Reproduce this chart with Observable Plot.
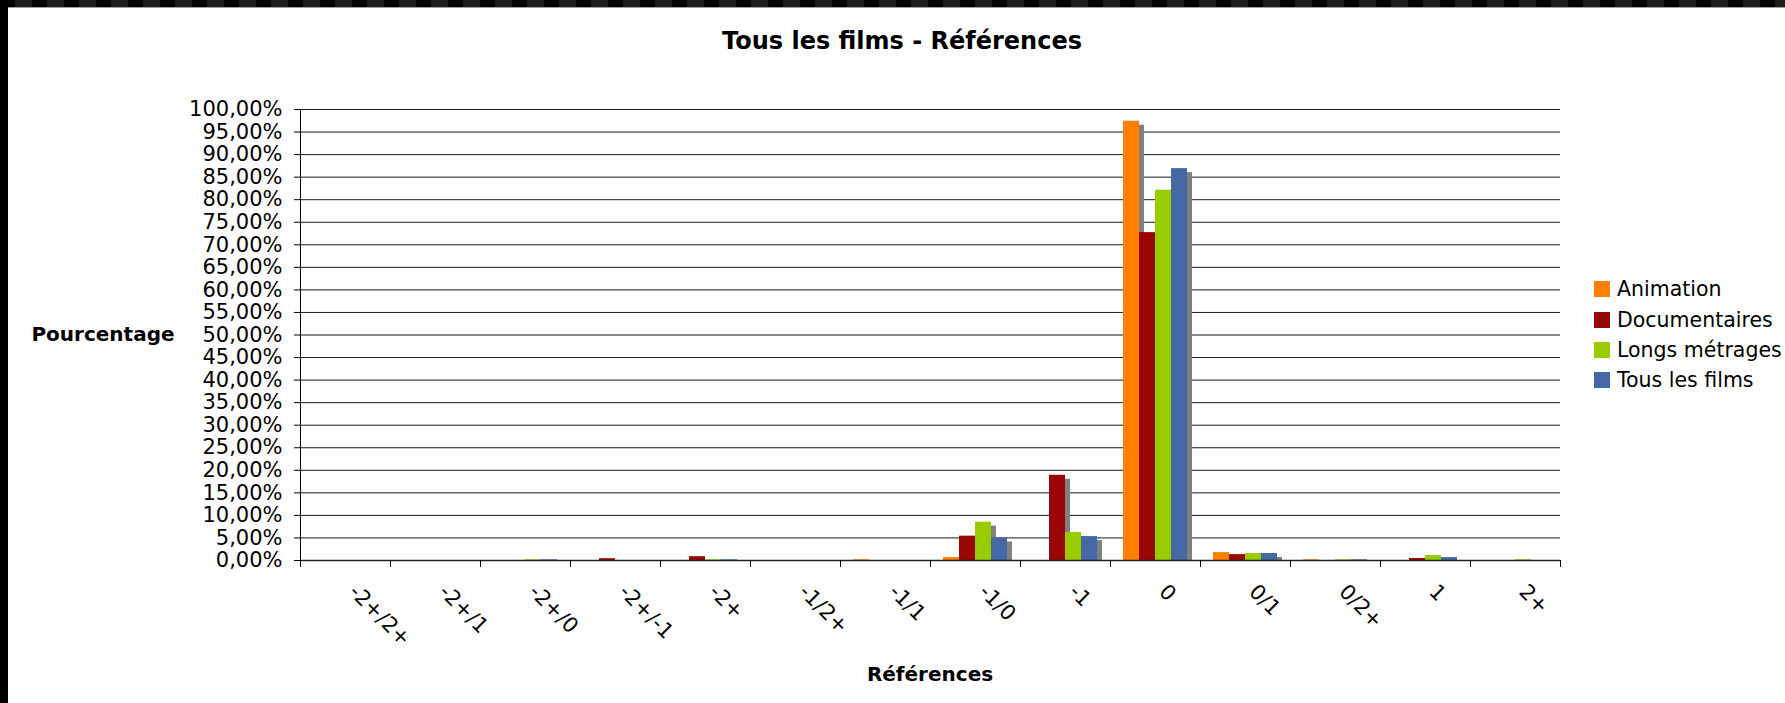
<!DOCTYPE html>
<html>
<head>
<meta charset="utf-8">
<script src="https://cdn.jsdelivr.net/npm/d3@7"></script>
<script src="https://cdn.jsdelivr.net/npm/@observablehq/plot@0.6"></script>
<style>
  body { margin: 0; background: #fff; font-family: "DejaVu Sans", Verdana, sans-serif; color: #000; }
  #wrap { position: relative; width: 1785px; height: 703px; overflow: hidden; background: #fff; }
  #chart { position: absolute; left: 0; top: 0; }
  #topbar { position: absolute; left: 0; top: 0; width: 1785px; height: 7px;
    background: repeating-linear-gradient(90deg, #000 0 15px, #1d1d1d 15px 32px);
    border-bottom: 1px solid #a0a0a0; z-index: 2; }
  #leftbar { position: absolute; left: 0; top: 0; width: 8px; height: 703px; background: #000; z-index: 2; }
  .lbl { position: absolute; transform: translate(-50%, -50%); white-space: nowrap; line-height: 1; font-weight: bold; }
  #title { left: 902px; top: 41px; font-size: 24px; }
  #ytitle { left: 103px; top: 334px; font-size: 20px; }
  #xtitle { left: 930px; top: 674px; font-size: 20px; }
  #legend { position: absolute; left: 1594px; top: 274px; font-size: 20.5px; }
  .row { display: flex; align-items: center; height: 30.4px; white-space: nowrap; }
  .sw { width: 16px; height: 16px; margin-right: 7px; flex: none; }
</style>
</head>
<body>
<div id="wrap">
  <div id="topbar"></div>
  <div id="leftbar"></div>
  <div id="chart"></div>
  <div id="title" class="lbl"></div>
  <div id="ytitle" class="lbl"></div>
  <div id="xtitle" class="lbl"></div>
  <div id="legend"></div>
</div>
<script>
// ---- Data ----
const titleText = "Tous les films - Références";
const yTitle = "Pourcentage";
const xTitle = "Références";

const categories = ["-2+/2+", "-2+/1", "-2+/0", "-2+/-1", "-2+", "-1/2+", "-1/1", "-1/0", "-1", "0", "0/1", "0/2+", "1", "2+"];
const series = ["Animation", "Documentaires", "Longs métrages", "Tous les films"];
const colors = ["#ff8000", "#990606", "#99cc00", "#4669a5"];

const animation     = [0, 0, 0,    0,    0,    0, 0.15, 0.65, 0,    97.4, 1.75, 0.15, 0,    0];
const documentaires = [0, 0, 0,    0.4,  0.85, 0, 0,    5.4,  18.9, 72.7, 1.3,  0,    0.45, 0];
const longsMetrages = [0, 0, 0.15, 0,    0.15, 0, 0,    8.5,  6.2,  82.1, 1.55, 0.15, 1.1,  0.15];
const tousLesFilms  = [0, 0, 0.15, 0,    0.15, 0, 0,    5.0,  5.3,  86.9, 1.55, 0.15, 0.65, 0];

const yTicks = [0, 5, 10, 15, 20, 25, 30, 35, 40, 45, 50, 55, 60, 65, 70, 75, 80, 85, 90, 95, 100];

// ---- Table ----
const valuesBySeries = [animation, documentaires, longsMetrages, tousLesFilms];
const rows = categories.flatMap((c, i) =>
  series.map((s, j) => ({category: c, series: s, value: valuesBySeries[j][i]}))
);

const fmt = d => d.toFixed(2).replace(".", ",") + "%";

const chart = Plot.plot({
  width: 1785,
  height: 703,
  marginTop: 109,
  marginBottom: 143,
  marginLeft: 296,
  marginRight: 221,
  style: {fontFamily: "DejaVu Sans, Verdana, sans-serif", fontSize: "21px", color: "#000", background: "transparent", overflow: "visible"},
  fx: {domain: categories, padding: 0, axis: null, label: null},
  x: {domain: series, paddingInner: 0, paddingOuter: 0.75, axis: null},
  y: {domain: [0, 100], axis: null},
  color: {domain: series, range: colors},
  marks: [
    Plot.gridY(yTicks, {stroke: "#000", strokeOpacity: 0.9, strokeWidth: 1}),
    Plot.barY(rows, {filter: d => d.value > 0.9, fx: "category", x: "series", y: "value", fill: "#808080", dx: 5, insetTop: 4}),
    Plot.barY(rows, {fx: "category", x: "series", y: "value", fill: "series"}),
    Plot.ruleY([0], {stroke: "#222", strokeWidth: 1.5}),
    Plot.frame({anchor: "left", stroke: "#000", insetTop: 451, insetBottom: -6}),
    Plot.frame({anchor: "right", stroke: "#000", insetTop: 451, insetBottom: -6}),
    Plot.frame({anchor: "left", stroke: "#000", facetAnchor: "left", insetBottom: -6}),
    Plot.axisY({ticks: yTicks, tickFormat: fmt, tickSize: 6, tickPadding: 12, fontSize: 21, label: null}),
    Plot.text(categories, {fx: d => d, text: d => d, frameAnchor: "bottom", dx: 13, dy: 22, rotate: 45, textAnchor: "start", lineAnchor: "top", fontSize: 21, fill: "#000"})
  ]
});
document.getElementById("chart").appendChild(chart);

document.getElementById("title").textContent = titleText;
document.getElementById("ytitle").textContent = yTitle;
document.getElementById("xtitle").textContent = xTitle;

const legend = document.getElementById("legend");
series.forEach((s, i) => {
  const row = document.createElement("div");
  row.className = "row";
  const sw = document.createElement("span");
  sw.className = "sw";
  sw.style.background = colors[i];
  const t = document.createElement("span");
  t.textContent = s;
  row.appendChild(sw);
  row.appendChild(t);
  legend.appendChild(row);
});
</script>
</body>
</html>
